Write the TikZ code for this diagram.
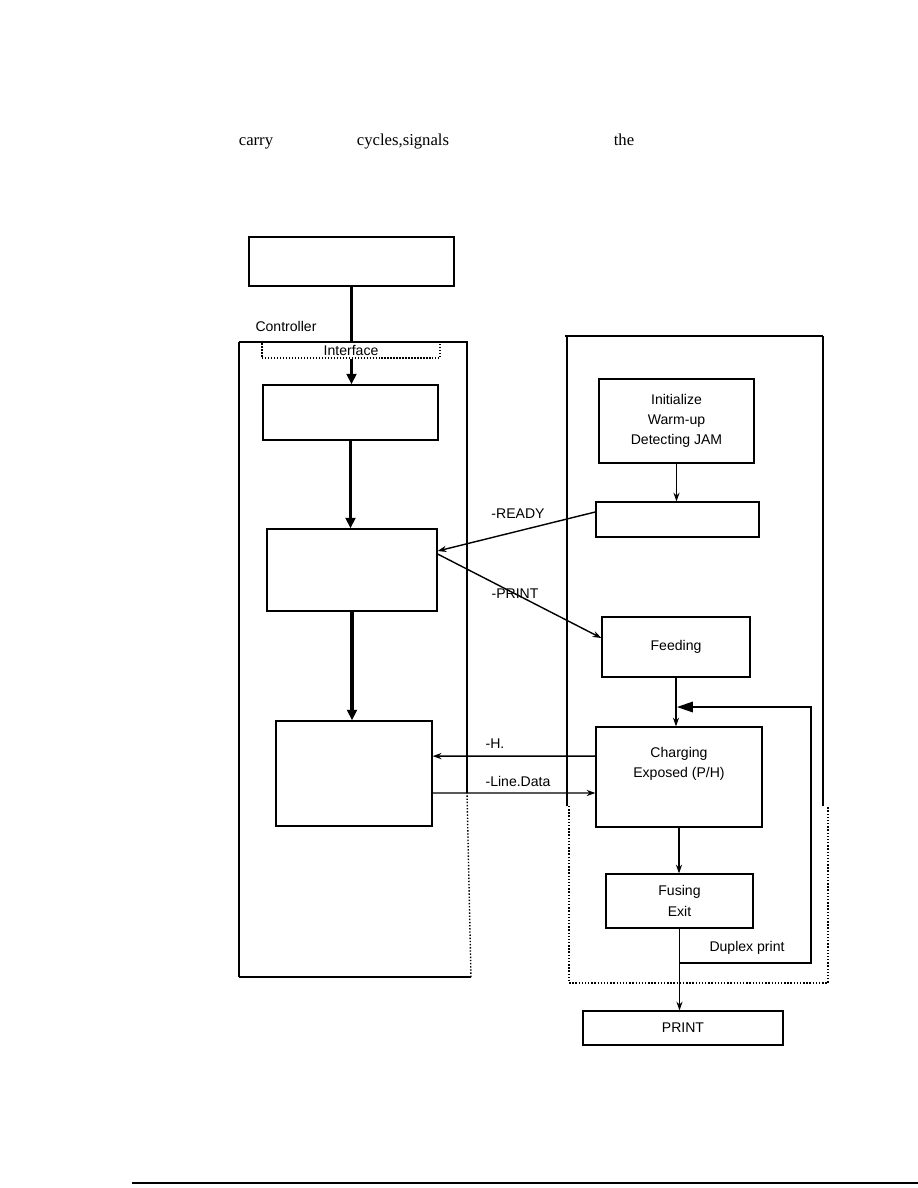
\documentclass[tikz,border=0pt]{standalone}
\usepackage{fontspec}
\setmainfont{Liberation Sans}
\newfontfamily\seriffont{Liberation Serif}
\usetikzlibrary{arrows.meta}

\begin{document}
\begin{tikzpicture}[x=0.02cm,y=-0.02cm,
  every node/.style={font=\fontsize{8}{11.5}\selectfont,inner sep=0pt},
  box/.style={draw,line width=0.7pt,align=center},
  flow/.style={line width=0.6pt,-{Stealth[length=5pt,width=3.5pt]}},
  bus/.style={line width=2.2pt,-{Triangle[length=6pt,width=5.5pt]}},
  sig/.style={line width=0.8pt,-{Stealth[length=5pt,width=3.5pt]}},
  word/.style={font=\seriffont\fontsize{9.5}{11}\selectfont,anchor=base}]
\path[fill=white] (0,0) rectangle (918,1188);
\useasboundingbox (0,0) rectangle (918,1188);
% running text
\node[word] (wcarry) at (256,145) {carry};
\node[word] (wcycles) at (403,145) {cycles,signals};
\node[word] (wthe) at (624,145) {the};
% controller side
\node[box,line width=1.2pt,minimum width=4.1cm,minimum height=0.98cm] (host) at (351.5,261.5) {};
\node (ctrl) at (286,326) {Controller};
\draw[line width=0.7pt] (467,793) -- (467,342) -- (239,342);
\draw[line width=1.3pt] (239,342) -- (239,977);
\draw[line width=0.7pt] (239,977) -- (471,977);
\draw[densely dotted,line width=0.8pt] (471,977) -- (467,793);
\node[box,densely dotted,minimum width=3.56cm,minimum height=0.32cm] (iface) at (351,350) {Interface};
\node[box,minimum width=3.5cm,minimum height=1.1cm] (bA) at (350.5,412.5) {};
\node[box,minimum width=3.4cm,minimum height=1.64cm] (bB) at (352,570) {};
\node[box,minimum width=3.12cm,minimum height=2.1cm] (bC) at (354,773.5) {};
\draw[bus,-] (host.south) -- (host.south |- iface.north);
\draw[bus] (host.south |- iface.south) -- (host.south |- bA.north);
\draw[bus] (bA.south) -- (bA.south |- bB.north);
\draw[bus] (bB.south) -- (bB.south |- bC.north);
% engine side
\draw[line width=0.8pt] (567,806) -- (567,336);
\draw[line width=1.2pt] (565,336) -- (823,336);
\draw[line width=0.7pt] (823,336) -- (823,806);
\draw[densely dotted,line width=0.8pt] (569,806) -- (569,983) -- (828,983) -- (828,806);
\node[box,minimum width=3.1cm,minimum height=1.68cm] (init) at (676.5,421) {Initialize\\Warm-up\\Detecting JAM};
\node[box,minimum width=3.26cm,minimum height=0.7cm] (ready) at (677.5,519.5) {};
\node[box,minimum width=2.96cm,minimum height=1.2cm] (feed) at (676,647) {Feeding};
\node[box,minimum width=3.32cm,minimum height=2cm] (expo) at (679,777) {};
\node[align=center] (expotxt) at (679,764) {Charging\\Exposed (P/H)};
\node[box,minimum width=2.94cm,minimum height=1.08cm] (fuse) at (679.5,901) {Fusing\\Exit};
\node[box,minimum width=4cm,minimum height=0.68cm] (prnt) at (683,1028) {PRINT};
\foreach \u/\v in {init/ready,feed/expo,expo/fuse,fuse/prnt}
  \draw[flow] (\u.south) -- (\u.south |- \v.north);
% duplex return
\coordinate (dsplit) at (679.5,963);
\coordinate (dmerge) at (677,707);
\draw[line width=0.8pt,-{Triangle[length=9pt,width=6pt]}] (dsplit) -| (811,707) -- (dmerge);
\node (ldup) at (747,948) {Duplex print};
% signals
\draw[sig] ([yshift=4.3pt]ready.west) -- ([yshift=10.8pt]bB.east);
\draw[sig] ([yshift=9.1pt]bB.east) -- ([yshift=5.1pt]feed.west);
\draw[sig] ([yshift=11.9pt]expo.west) -- ([yshift=9.9pt]bC.east);
\draw[sig] ([yshift=-11.1pt]bC.east) -- ([yshift=-9.1pt]expo.west);
\node (lready) at (518,514) {-READY};
\node (lprint) at (515,594) {-PRINT};
\node (lh) at (495,744) {-H.};
\node (lline) at (518,781) {-Line.Data};
% page rule
\draw[line width=1.2pt] (132,1183) -- (918,1183);
\end{tikzpicture}
\end{document}
